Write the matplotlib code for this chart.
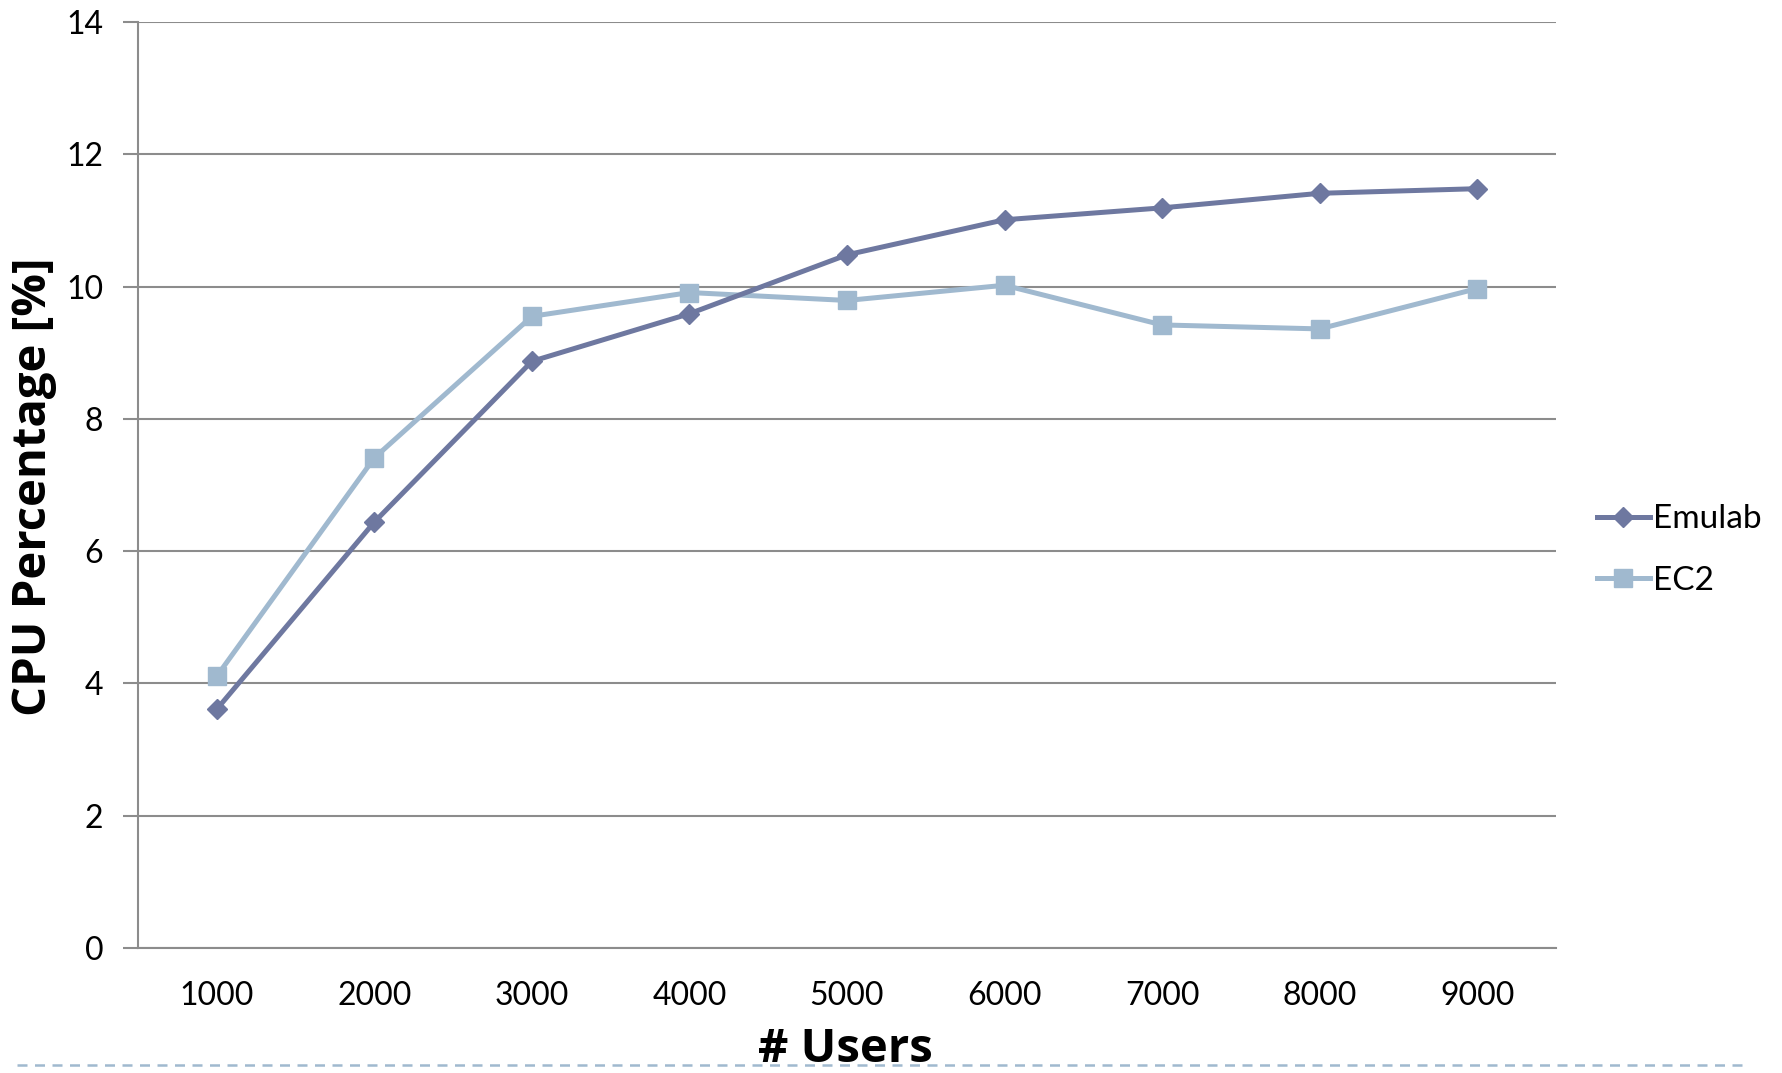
import matplotlib
matplotlib.use("Agg")
import matplotlib.pyplot as plt
from matplotlib.lines import Line2D

# Data
users = ["1000", "2000", "3000", "4000", "5000", "6000", "7000", "8000", "9000"]
emulab = [3.61, 6.44, 8.87, 9.59, 10.48, 11.01, 11.19, 11.41, 11.48]
ec2 = [4.11, 7.41, 9.55, 9.91, 9.79, 10.02, 9.42, 9.36, 9.97]
yticks = [0, 2, 4, 6, 8, 10, 12, 14]

C_EMU = "#6E78A0"
C_EC2 = "#A0B9CF"
C_GRID = "#8C8C8C"

W, H = 1783, 1073
fig = plt.figure(figsize=(W / 100, H / 100), dpi=100)
ax = fig.add_axes([138 / W, 1 - 948 / H, (1556 - 138) / W, (948 - 22) / H])

x = list(range(len(users)))
ax.plot(x, emulab, color=C_EMU, lw=3.6, marker="D", ms=10.5, mec=C_EMU, mfc=C_EMU,
        solid_joinstyle="round", zorder=4)
ax.plot(x, ec2, color=C_EC2, lw=3.6, marker="s", ms=13.5, mec=C_EC2, mfc=C_EC2,
        solid_joinstyle="round", zorder=3)

ax.set_xlim(-0.5, len(users) - 0.5)
ax.set_ylim(0, 14)
ax.set_yticks(yticks)
ax.set_xticks(x)
ax.set_xticklabels(users)

ax.grid(axis="y", color=C_GRID, lw=1.5)
ax.set_axisbelow(True)
for s in ["top", "right"]:
    ax.spines[s].set_visible(False)
for s in ["left", "bottom"]:
    ax.spines[s].set_color(C_GRID)
    ax.spines[s].set_linewidth(1.5)

ax.tick_params(axis="y", length=11, width=1.5, color=C_GRID, pad=14,
               labelsize=23, labelcolor="black")
ax.tick_params(axis="x", length=0, pad=24, labelsize=23, labelcolor="black")
for lab in ax.get_xticklabels() + ax.get_yticklabels():
    lab.set_family("Lato")

fig.text(34 / W, 1 - 487 / H, "CPU Percentage [%]", rotation=90, ha="center", va="center",
         fontsize=34, fontweight="bold", family="Open Sans")
fig.text(845 / W, 1 - 1049 / H, "# Users", ha="center", va="center",
         fontsize=34, fontweight="bold", family="Open Sans", zorder=1)

# Legend
handles = [
    Line2D([], [], color=C_EMU, lw=3.6, marker="D", ms=10.5, mec=C_EMU, mfc=C_EMU),
    Line2D([], [], color=C_EC2, lw=3.6, marker="s", ms=13.5, mec=C_EC2, mfc=C_EC2),
]
leg = fig.legend(handles, ["Emulab", "EC2"], loc="center left",
                 bbox_to_anchor=(1580 / W, 1 - 550 / H), frameon=False,
                 prop={"family": "Lato", "size": 24}, handlelength=1.6,
                 handletextpad=0.1, labelspacing=0.95, borderpad=0)

# Dashed separator along the bottom edge
fig.add_artist(Line2D([17 / W, 1743 / W], [1 - 1065 / H, 1 - 1065 / H],
                      transform=fig.transFigure, color=C_EC2, lw=1.8,
                      ls=(0, (4, 3)), zorder=5))

fig.savefig("out.png", dpi=100)
